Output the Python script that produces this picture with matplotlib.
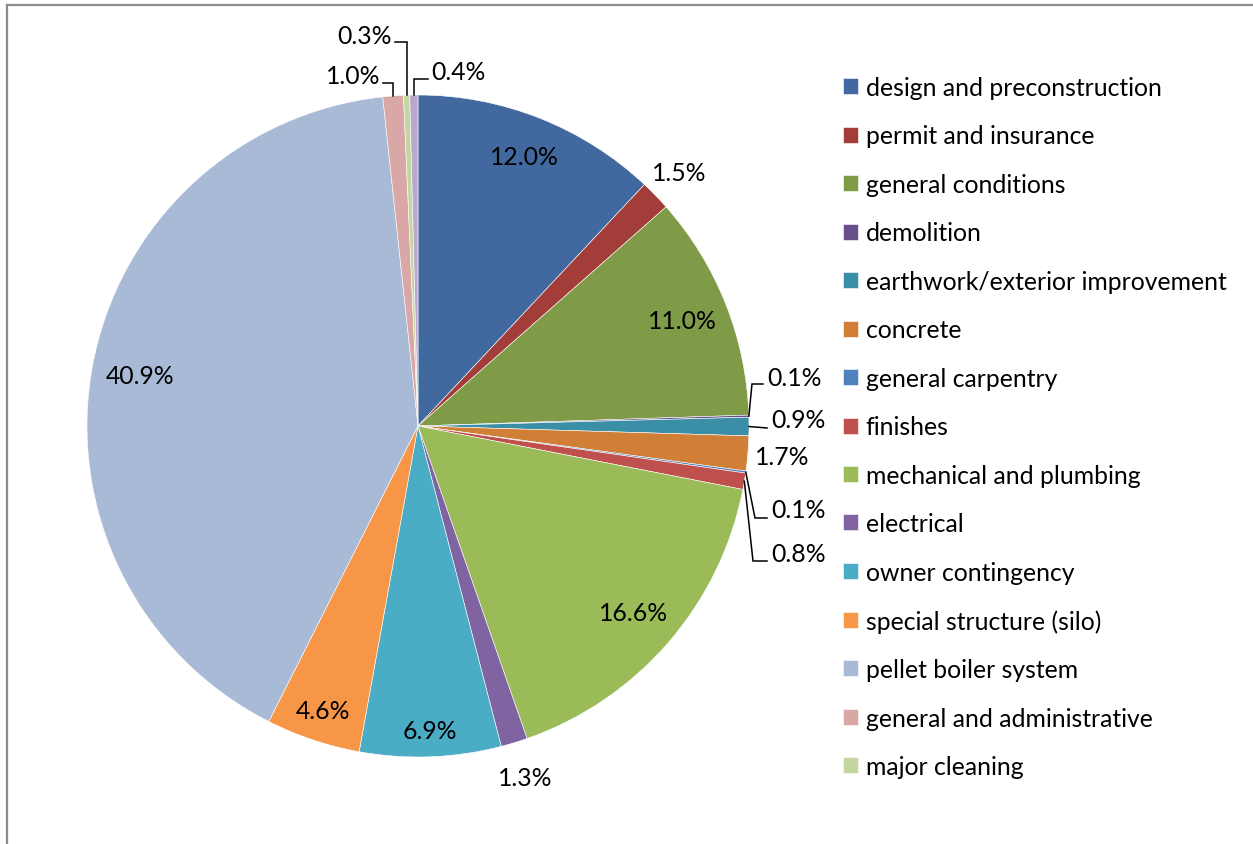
import matplotlib.pyplot as plt
import numpy as np

plt.rcParams['font.family'] = ['Lato', 'DejaVu Sans']

# data
categories = ['design and preconstruction', 'permit and insurance', 'general conditions',
              'demolition', 'earthwork/exterior improvement', 'concrete', 'general carpentry',
              'finishes', 'mechanical and plumbing', 'electrical', 'owner contingency',
              'special structure (silo)', 'pellet boiler system', 'general and administrative',
              'major cleaning', 'other']
values = [12.0, 1.5, 11.0, 0.1, 0.9, 1.7, 0.1, 0.8, 16.6, 1.3, 6.9, 4.6, 40.9, 1.0, 0.3, 0.4]
n_legend = 15   # the last slice is not listed in the legend

colors = ['#4169A0', '#A33D3A', '#7F9B48', '#69508B', '#3A8EA5', '#D17E37', '#4F81BD',
          '#C0504D', '#9BBB59', '#8064A2', '#4BACC6', '#F79646', '#A9BAD7', '#D9A7A6',
          '#C4D6A0', '#B8A9CB']

W, H = 1253, 845
def px(x, y):
    # pixel position (top-down) -> axes data position
    return x, H - y

cx, cy = px(418, 427)
R = 331
fs = 17.8

fig = plt.figure(figsize=(W / 100, H / 100), dpi=100)
ax = fig.add_axes([0, 0, 1, 1])

wedges, _ = ax.pie(values, colors=colors, startangle=90, counterclock=False,
                   center=(cx, cy), radius=R,
                   wedgeprops=dict(linewidth=0.4, edgecolor='white'))
ax.set_xlim(0, W)
ax.set_ylim(0, H)
ax.set_aspect('equal')
ax.axis('off')

vals = np.array(values)
total = vals.sum()
cum = np.cumsum(vals)
mid = np.deg2rad(90 - 360 * (cum - vals / 2) / total)

# labels placed along the slice's middle direction (radius factor)
radial = {0: 0.874, 1: 1.10, 2: 0.86, 5: 1.105, 8: 0.86, 9: 1.11, 10: 0.92, 11: 0.905, 12: 0.855}
for i, f in radial.items():
    ax.text(cx + R * f * np.cos(mid[i]), cy + R * f * np.sin(mid[i]), f'{values[i]:.1f}%',
            ha='center', va='center', fontsize=fs, color='black')

# labels with leader lines: waypoints (None = keep start x), label pos, alignment
leaders = {
    3: ([(752, 385), (763, 385)], (767, 379), 'left'),
    4: ([(767, 429)], (771, 421), 'left'),
    6: ([(755, 519), (767, 519)], (771, 511), 'left'),
    7: ([(753, 562), (767, 562)], (771, 555), 'left'),
    13: ([(None, 84), (383, 84)], (380, 77), 'right'),
    14: ([(None, 43), (395, 43)], (392, 37), 'right'),
    15: ([(None, 80), (428, 80)], (431, 73), 'left'),
}
for i, (pts, lpos, ha) in leaders.items():
    sx, sy = cx + R * np.cos(mid[i]), cy + R * np.sin(mid[i])
    xs, ys = [sx], [sy]
    for x, y in pts:
        x = sx if x is None else x
        X, Y = px(x, y)
        xs.append(X)
        ys.append(Y)
    ax.plot(xs, ys, color='black', lw=1.1, solid_joinstyle='miter')
    lx, ly = px(*lpos)
    ax.text(lx, ly, f'{values[i]:.1f}%', ha=ha, va='center', fontsize=fs, color='black')

# chart area border (top and left visible)
bx0, by0 = px(7, 6)
ax.plot([bx0, W], [by0, by0], color='#8c8c8c', lw=1.6)
ax.plot([bx0, bx0], [by0, 0], color='#8c8c8c', lw=1.6)

lx, ly = px(843, 77)
ax.legend(wedges[:n_legend], categories[:n_legend], loc='upper left',
          bbox_to_anchor=(lx / W, ly / H), frameon=False, fontsize=fs,
          handlelength=0.62, handleheight=0.62, handletextpad=0.3,
          labelspacing=1.03, borderpad=0, borderaxespad=0)

fig.savefig('out.png', dpi=100)
